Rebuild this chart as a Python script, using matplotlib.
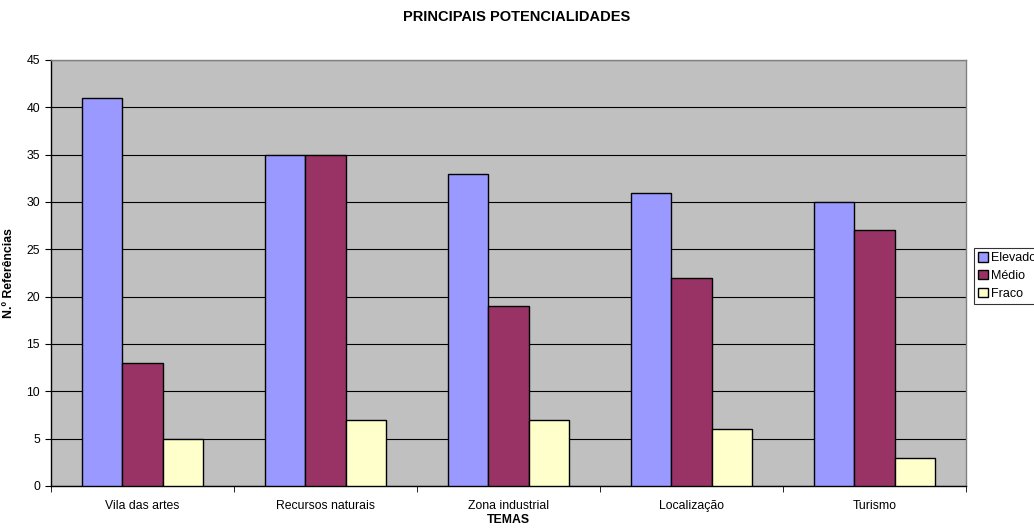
import matplotlib
matplotlib.use("Agg")
import matplotlib.pyplot as plt
import numpy as np

plt.rcParams["font.family"] = ["Liberation Sans", "DejaVu Sans"]

categories = ["Vila das artes", "Recursos naturais", "Zona industrial", "Localização", "Turismo"]
series_names = ["Elevado", "Médio", "Fraco"]
elevado = [41, 35, 33, 31, 30]
medio = [13, 35, 19, 22, 27]
fraco = [5, 7, 7, 6, 3]
colors = ["#9999FF", "#993366", "#FFFFCC"]

fig = plt.figure(figsize=(10.34, 5.28), dpi=100)
ax = fig.add_axes([51 / 1034, 1 - 486 / 528, 915 / 1034, 426 / 528])
ax.set_facecolor("#C0C0C0")

x = np.arange(len(categories))
width = 0.22
for i, (vals, name, col) in enumerate(zip([elevado, medio, fraco], series_names, colors)):
    ax.bar(x + (i - 1) * width, vals, width, color=col, edgecolor="black",
           linewidth=1.0, label=name, zorder=3)

ax.set_xlim(-0.5, len(categories) - 0.5)
ax.set_ylim(0, 45)
ax.set_yticks(np.arange(0, 46, 5))
ax.yaxis.grid(True, color="black", linewidth=0.8, zorder=0)
ax.set_axisbelow(True)

ax.set_xticks(x)
ax.set_xticklabels(categories, fontsize=8.8)
ax.set_xticks(np.arange(-0.5, len(categories) + 0.5, 1), minor=True)
ax.tick_params(axis="x", which="major", length=0, pad=10)
ax.tick_params(axis="x", which="minor", length=4, direction="out", color="black")
ax.tick_params(axis="y", length=4, direction="out", labelsize=8.8, pad=4)

for s in ["left", "bottom"]:
    ax.spines[s].set_color("black")
    ax.spines[s].set_linewidth(1.0)
for s in ["top", "right"]:
    ax.spines[s].set_color("#808080")
    ax.spines[s].set_linewidth(1.0)

ax.set_xlabel("TEMAS", fontsize=8.8, fontweight="bold")
ax.xaxis.set_label_coords(0.5, -(514 - 486) / 426)
ax.set_ylabel("N.º Referências", fontsize=8.8, fontweight="bold")
ax.yaxis.set_label_coords(-(51 - 15) / 915, 0.5)
fig.text(0.5, 1 - 17 / 528, "PRINCIPAIS POTENCIALIDADES", ha="center", va="center",
         fontsize=10.5, fontweight="bold")

leg = ax.legend(loc="upper left", bbox_to_anchor=(1.0 + 8 / 915, 1 - (248 - 60) / 426),
                fontsize=9, frameon=True, fancybox=False, edgecolor="black",
                borderpad=0.35, handlelength=0.75, handleheight=0.75,
                handletextpad=0.25, labelspacing=0.45, borderaxespad=0)
leg.get_frame().set_linewidth(0.8)

fig.savefig("out.png", dpi=100)
